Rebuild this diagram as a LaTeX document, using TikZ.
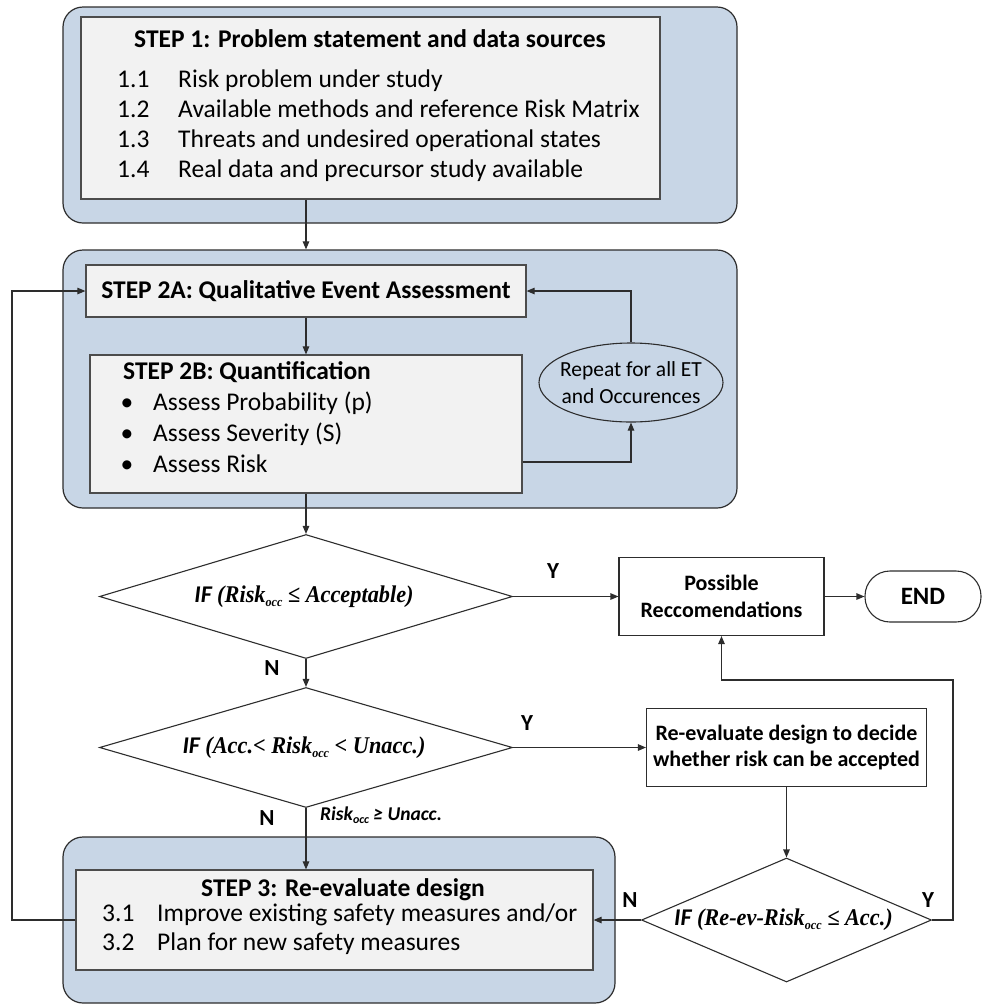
\documentclass[tikz,border=0pt]{standalone}
\usepackage{fontspec}
\setmainfont{Carlito}
\newfontfamily\timesf{Liberation Serif}
\usetikzlibrary{shapes.geometric,arrows.meta,calc}

\definecolor{panelblue}{RGB}{200,214,230}
\definecolor{boxgray}{RGB}{242,242,242}
\definecolor{ink}{RGB}{45,45,45}

% small lowered "occ" index used in the decision texts
\newcommand\occidx[1][13]{\raisebox{-0.35ex}{\fontsize{#1}{#1}\selectfont occ}}
% narrow serif formula inside the decisions
\newcommand\condtext[1]{\scalebox{0.93}[1]{\timesf #1}}

\tikzset{
  panel/.style={draw=ink, fill=panelblue, rounded corners=20pt, line width=1.2pt, inner sep=0pt},
  stepbox/.style={draw=ink!85, fill=boxgray, line width=1.2pt, inner sep=0pt},
  plainbox/.style={draw=ink, fill=white, line width=1.1pt, inner sep=0pt},
  decision/.style={diamond, draw=ink, fill=white, line width=1.1pt, inner sep=0pt},
  arr/.style={draw=ink, line width=1.1pt, -{Triangle[length=8pt,width=6.5pt]}},
  body/.style={inner sep=0pt, font=\fontsize{25.5}{30}\selectfont},
  bodybold/.style={inner sep=0pt, font=\fontsize{25.5}{30}\selectfont\bfseries},
  boxtext/.style={font=\fontsize{22}{26.5}\selectfont\bfseries, align=center},
  cond/.style={inner sep=0pt, font=\fontsize{24}{26}\selectfont\bfseries\itshape},
  yn/.style={inner sep=0pt, font=\fontsize{23}{26}\selectfont\bfseries},
}

\begin{document}
\begin{tikzpicture}[x=1pt, y=-1pt]
\useasboundingbox (0,0) rectangle (983,1005);

% grouping panels
\node[panel, minimum width=674pt, minimum height=216pt] (p1) at (400,115) {};
\node[panel, minimum width=674pt, minimum height=258pt] (p2) at (400,379) {};
\node[panel, minimum width=552pt, minimum height=166pt] (p3) at (339,920) {};

% step boxes
\node[stepbox, minimum width=579pt, minimum height=182pt] (s1) at (370.5,108) {};
\node[stepbox, minimum width=440pt, minimum height=52pt, font=\fontsize{25.5}{30}\selectfont\bfseries] (s2a) at (306,291) {STEP 2A: Qualitative Event Assessment};
\node[stepbox, minimum width=432pt, minimum height=138pt] (s2b) at (306,424) {};
\node[ellipse, draw=ink, fill=panelblue, line width=1.1pt, inner sep=0pt,
      minimum width=184pt, minimum height=79pt] (rep) at (631,382.5) {};
\node[stepbox, minimum width=517pt, minimum height=100pt] (s3) at (334.5,920) {};

% step 1 contents
\node[bodybold] (s1title) at (370,39) {STEP 1: Problem statement and data sources};
\foreach \k/\yy/\tx in {1/85/Risk problem under study,
                        2/115/Available methods and reference Risk Matrix,
                        3/145/Threats and undesired operational states,
                        4/175/Real data and precursor study available}{
  \node[body, anchor=mid west] (s1n\k) at (117,\yy) {1.\k};
  \node[body, anchor=mid west] (s1t\k) at (178,\yy) {\tx};
}

% step 2B contents
\node[bodybold, anchor=mid west] (s2btitle) at (123,377) {STEP 2B: Quantification};
\foreach \k/\yy/\tx in {1/408/Assess Probability (p),
                        2/439/Assess Severity (S),
                        3/470/Assess Risk}{
  \node[body, anchor=mid] (s2bb\k) at (127,\yy) {\textbullet};
  \node[body, anchor=mid west] (s2bt\k) at (153,\yy) {\tx};
}

% loop label
\node[inner sep=0pt, align=center, font=\fontsize{21.5}{27}\selectfont] (reptext) at (rep.center) {Repeat for all ET\\and Occurences};

% step 3 contents
\node[bodybold] (s3title) at (343,890) {STEP 3: Re-evaluate design};
\node[body, anchor=mid west] (s3n1) at (102,919) {3.1};
\node[body, anchor=mid west] (s3t1) at (157,919) {Improve existing safety measures and/or};
\node[body, anchor=mid west] (s3n2) at (102,948) {3.2};
\node[body, anchor=mid west] (s3t2) at (157,948) {Plan for new safety measures};

% decisions
\node[decision, minimum width=413pt, minimum height=124pt] (d1) at (306,596.5) {};
\node[decision, minimum width=413pt, minimum height=120pt] (d2) at (306,747.5) {};
\node[decision, minimum width=290pt, minimum height=124pt] (d3) at (786.5,920) {};
\node[cond] (d1t) at ($(d1.center)+(-2,0)$) {IF \condtext{(Risk\occidx{} ≤ Acceptable)}};
\node[cond] (d2t) at ($(d2.center)+(-2,0)$) {IF \condtext{(Acc.< Risk\occidx{} < Unacc.)}};
\node[cond] (d3t) at ($(d3.center)+(-3,0)$) {IF \condtext{(Re-ev-Risk\occidx{} ≤ Acc.)}};

% outcome boxes
\node[plainbox, boxtext, minimum width=205pt, minimum height=78pt] (pr) at (721.5,596.5) {Possible\\Reccomendations};
\node[plainbox, rounded corners=25pt, minimum width=116pt, minimum height=51pt,
      font=\fontsize{25}{28}\selectfont\bfseries] (end) at (923,596.5) {END};
\node[plainbox, boxtext, minimum width=280pt, minimum height=78pt] (re) at (786.5,747.5) {Re-evaluate design to decide\\whether risk can be accepted};

% branch labels
\node[yn] (y1) at (553,571) {Y};
\node[yn] (n1) at (272,668) {N};
\node[yn] (y2) at (527,723) {Y};
\node[yn] (n2) at (267,818) {N};
\node[inner sep=0pt, anchor=mid west, font=\fontsize{19.5}{22}\selectfont\bfseries\itshape] (unacc) at (320,818) {Risk\occidx[12]{} ≥ Unacc.};
\node[yn] (n3) at (630,900) {N};
\node[yn] (y3) at (928,900) {Y};

% connectors
\coordinate (yturn) at (953,680);
\coordinate (loopturn) at (12,291);
\draw[arr] (s1.south -| s2a.north) -- (p2.north -| s2a.north);
\draw[arr] (s2a.south) -- (s2b.north);
\draw[arr] ([yshift=-38pt]s2b.east) -| (rep.south);
\draw[arr] (rep.north) |- (s2a.east);
\draw[arr] (s2b.south) -- (d1.north);
\draw[arr] (d1.east) -- (pr.west);
\draw[arr] (pr.east) -- (end.west);
\draw[arr] (d1.south) -- (d2.north);
\draw[arr] (d2.east) -- (re.west);
\draw[arr] (d2.south) -- (d2.south |- s3.north);
\draw[arr] (re.south) -- (d3.north);
\draw[arr] (d3.west) -- (d3.west -| s3.east);
\draw[arr] (d3.east) -| (yturn) -| (pr.south);
\draw[arr] (s3.west) -| (loopturn) -- (s2a.west);
\end{tikzpicture}
\end{document}
